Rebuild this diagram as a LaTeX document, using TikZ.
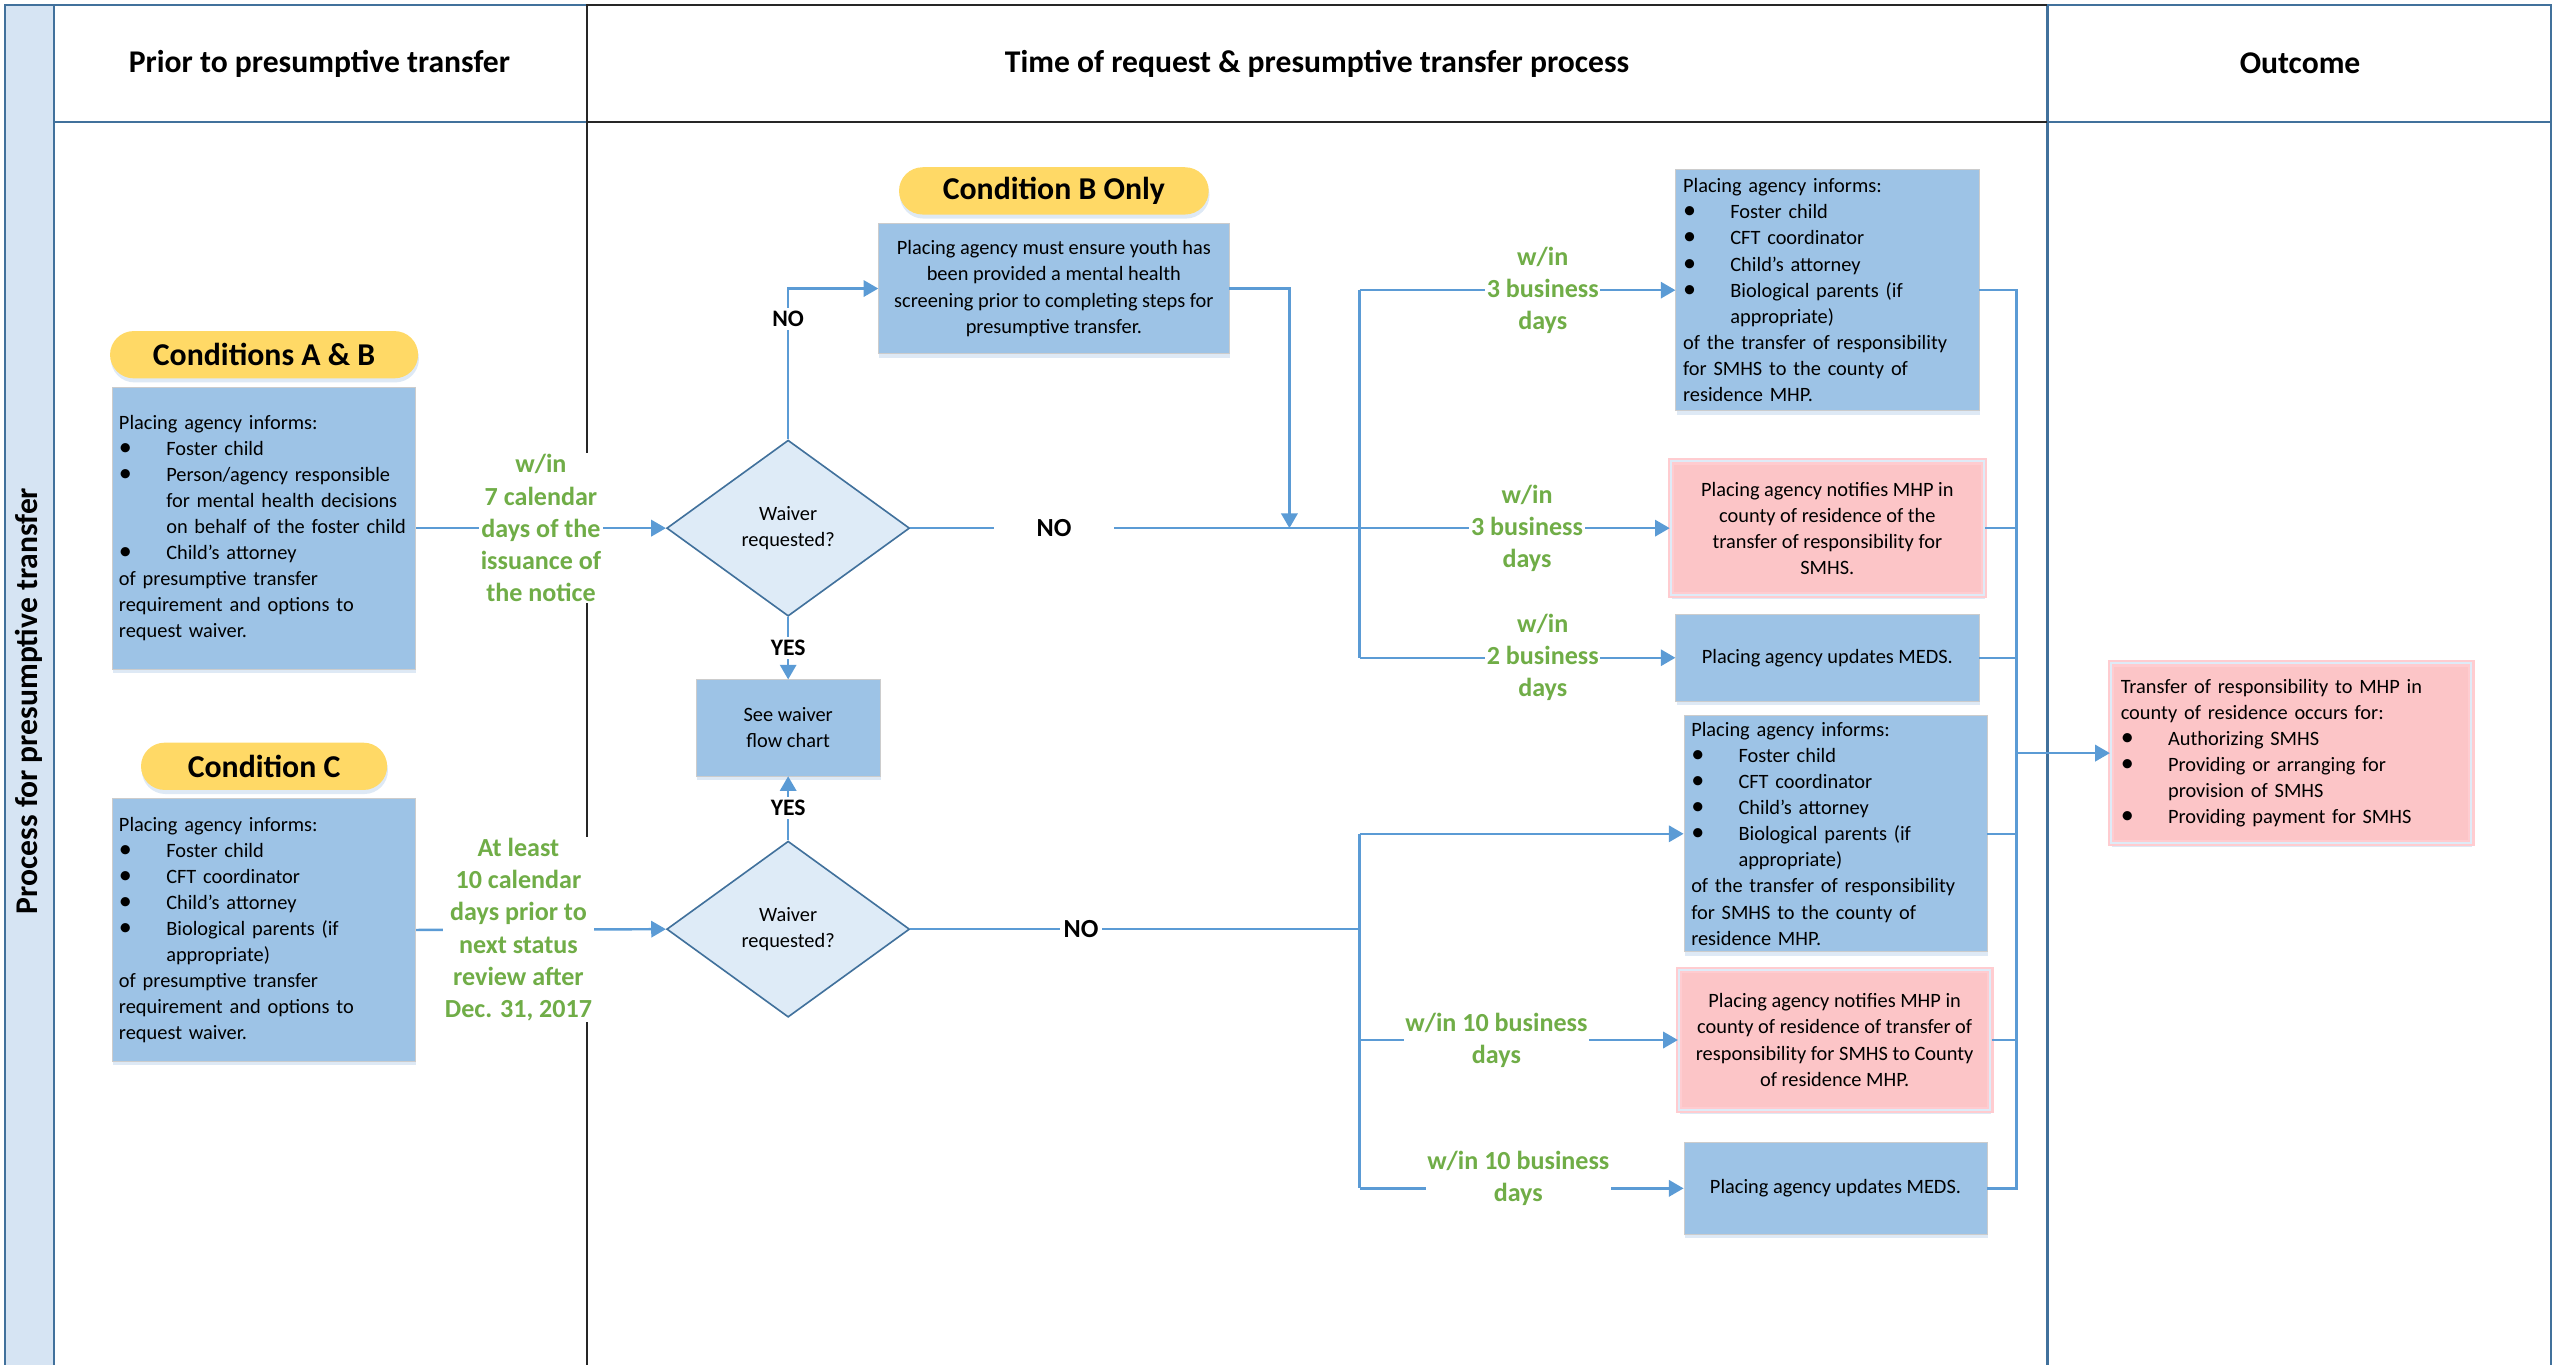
\documentclass[tikz,border=0pt]{standalone}
\usepackage{fontspec}
\setmainfont{Carlito}
\usetikzlibrary{positioning, arrows.meta, shapes.geometric, shadows}

\definecolor{boxblue}{RGB}{157,195,230}
\definecolor{diafill}{RGB}{222,235,247}
\definecolor{laneblue}{RGB}{65,113,156}
\definecolor{stripblue}{RGB}{214,228,243}
\definecolor{flowblue}{RGB}{91,155,213}
\definecolor{daygreen}{RGB}{112,173,71}
\definecolor{pillyellow}{RGB}{255,217,102}
\definecolor{notepink}{RGB}{252,197,199}
\definecolor{edgepink}{RGB}{255,204,208}

\newcommand{\bodyfont}{\fontsize{12.5}{16}\selectfont}
\newcommand{\bul}{\makebox[29pt][l]{\fontsize{16}{16}\selectfont\textbullet}}
\newcommand{\ind}{\hspace*{29pt}}

\tikzset{
  lane/.style={draw=laneblue, line width=1.4pt},
  midlane/.style={draw=black!85, line width=1.4pt},
  lanehead/.style={font=\fontsize{19.4}{22}\selectfont\bfseries},
  softshadow/.style={drop shadow={shadow xshift=0.5pt, shadow yshift=-2.5pt, fill=stripblue, opacity=0.8}},
  pill/.style={fill=pillyellow, rounded corners=14.5pt, minimum height=29pt, inner sep=0pt,
    font=\fontsize{19.5}{22}\selectfont\bfseries, softshadow},
  infobox/.style={fill=boxblue, draw=black!20, inner sep=4pt, align=left, font=\bodyfont, softshadow},
  process/.style={fill=boxblue, draw=black!20, inner sep=3pt, align=center, font=\bodyfont, softshadow},
  notebox/.style={fill=notepink, draw=edgepink, line width=1.4pt, double=diafill, double distance=1.2pt,
    inner sep=4pt, font=\bodyfont, softshadow},
  decision/.style={diamond, draw=laneblue, fill=diafill, line width=1pt, minimum width=149pt,
    minimum height=108pt, inner sep=0pt, align=center, font=\bodyfont},
  flow/.style={draw=flowblue, line width=1.5pt, -{Triangle[length=9pt, width=10pt]}},
  link/.style={draw=flowblue, line width=1.5pt},
  daylabel/.style={font=\fontsize{16}{19.7}\selectfont\bfseries, text=daygreen, fill=white,
    inner sep=1pt, align=center},
  answer/.style={font=\fontsize{14.5}{17}\selectfont\bfseries, fill=white, inner sep=2pt},
}

\begin{document}
\begin{tikzpicture}[x=1pt, y=-1pt]
  \useasboundingbox (0,0) rectangle (1568,837);

  % swimlanes
  \fill[stripblue] (3,3) rectangle (33,840);
  \draw[lane] (3,840) -- (3,3) -- (1565,3) -- (1565,840)
              (33,3) -- (33,840) (33,75) -- (360,75)
              (1256,3) -- (1256,840) (1256,75) -- (1565,75);
  \draw[midlane] (360,840) -- (360,3) -- (1256,3) (360,75) -- (1256,75);

  \node[lanehead] (hdrPrior) at (196,39) {Prior to presumptive transfer};
  \node[lanehead] (hdrTime) at (808,39) {Time of request \& presumptive transfer process};
  \node[lanehead] (hdrOutcome) at (1411,39) {Outcome};
  \node[lanehead, rotate=90] (laneName) at (18,430) {Process for presumptive transfer};

  % prior to transfer
  \node[infobox, minimum width=186pt, minimum height=173pt, text width=178pt] (infoAB) at (162,324)
    {Placing agency informs:\\
     \bul Foster child\\
     \bul Person/agency responsible\\
     \ind for mental health decisions\\
     \ind on behalf of the foster child\\
     \bul Child’s attorney\\
     of presumptive transfer\\
     requirement and options to\\
     request waiver.};
  \node[pill, minimum width=189pt, above=5pt of infoAB] (condAB) {Conditions A \& B};

  \node[infobox, minimum width=186pt, minimum height=161pt, text width=178pt] (infoC) at (162,570.5)
    {Placing agency informs:\\
     \bul Foster child\\
     \bul CFT coordinator\\
     \bul Child’s attorney\\
     \bul Biological parents (if\\
     \ind appropriate)\\
     of presumptive transfer\\
     requirement and options to\\
     request waiver.};
  \node[pill, minimum width=151pt, above=5pt of infoC] (condC) {Condition C};

  % waiver decisions
  \node[decision] (waiverA) at (483.5,324) {Waiver\\requested?};
  \node[decision] (waiverC) at (483.5,570) {Waiver\\requested?};
  \node[process, minimum width=113pt, minimum height=59pt] (seeWaiver) at (483.5,446.5) {See waiver\\flow chart};

  \node[process, minimum width=215pt, minimum height=80pt] (screenB) at (646.5,177)
    {Placing agency must ensure youth has\\
     been provided a mental health\\
     screening prior to completing steps for\\
     presumptive transfer.};
  \node[pill, minimum width=190pt, above=5pt of screenB] (condBOnly) {Condition B Only};

  % notices, conditions A & B
  \node[infobox, minimum width=186pt, minimum height=148pt, text width=177pt] (notifyAB1) at (1121,178)
    {Placing agency informs:\\
     \bul Foster child\\
     \bul CFT coordinator\\
     \bul Child’s attorney\\
     \bul Biological parents (if\\
     \ind appropriate)\\
     of the transfer of responsibility\\
     for SMHS to the county of\\
     residence MHP.};
  \node[notebox, minimum width=192pt, minimum height=82pt, align=center] (notifyAB2) at (1121,324)
    {Placing agency notifies MHP in\\
     county of residence of the\\
     transfer of responsibility for\\
     SMHS.};
  \node[process, minimum width=186pt, minimum height=53pt] (medsAB) at (1121,403.5) {Placing agency updates MEDS.};

  % notices, condition C
  \node[infobox, minimum width=186pt, minimum height=141pt, text width=177pt] (notifyC1) at (1126,511.5)
    {Placing agency informs:\\
     \bul Foster child\\
     \bul CFT coordinator\\
     \bul Child’s attorney\\
     \bul Biological parents (if\\
     \ind appropriate)\\
     of the transfer of responsibility\\
     for SMHS to the county of\\
     residence MHP.};
  \node[notebox, minimum width=191pt, minimum height=86pt, align=center] (notifyC2) at (1125.5,638)
    {Placing agency notifies MHP in\\
     county of residence of transfer of\\
     responsibility for SMHS to County\\
     of residence MHP.};
  \node[process, minimum width=186pt, minimum height=56pt] (medsC) at (1126,729) {Placing agency updates MEDS.};

  % outcome
  \node[notebox, minimum width=221pt, minimum height=110pt, text width=209pt, align=left] (outcome) at (1405.5,462)
    {Transfer of responsibility to MHP in\\
     county of residence occurs for:\\
     \bul Authorizing SMHS\\
     \bul Providing or arranging for\\
     \ind provision of SMHS\\
     \bul Providing payment for SMHS};

  \coordinate (mergeB) at (791,324);
  \coordinate (splitA) at (834,324);
  \coordinate (splitC) at (834,570);
  \coordinate (rbus) at (1237,462);

  % connectors
  \draw[flow] (infoAB.east) -- node[daylabel, pos=0.5]
    {w/in\\7 calendar\\days of the\\issuance of\\the notice} (waiverA.west);
  \draw[flow] (infoC.east) -- node[daylabel, pos=0.41]
    {At least\\10 calendar\\days prior to\\next status\\review after\\Dec. 31, 2017} (waiverC.west);

  \draw[flow] (waiverA.north) |- node[answer, pos=0.4] {NO} (screenB.west);
  \draw[flow] (waiverA.south) -- node[answer] {YES} (seeWaiver.north);
  \draw[flow] (waiverC.north) -- node[answer] {YES} (seeWaiver.south);
  \draw[flow] (screenB.east) -| (mergeB);

  \draw[link] (waiverA.east) -- node[answer, pos=0.32, font=\fontsize{16}{18}\selectfont\bfseries, inner xsep=26pt] {NO} (splitA);
  \draw[link] (splitA |- notifyAB1.west) -- (splitA |- medsAB.west);
  \draw[flow] (splitA |- notifyAB1.west) -- node[daylabel, pos=0.58] {w/in\\3 business\\days} (notifyAB1.west);
  \draw[flow] (splitA) -- node[daylabel, pos=0.54] {w/in\\3 business\\days} (notifyAB2.west);
  \draw[flow] (splitA |- medsAB.west) -- node[daylabel, pos=0.58] {w/in\\2 business\\days} (medsAB.west);

  \draw[link] (waiverC.east) -- node[answer, pos=0.38, font=\fontsize{16}{18}\selectfont\bfseries] {NO} (splitC);
  \draw[link] (splitC |- notifyC1.west) -- (splitC |- medsC.west);
  \draw[flow] (splitC |- notifyC1.west) -- (notifyC1.west);
  \draw[flow] (splitC |- notifyC2.west) -- node[daylabel, pos=0.43] {w/in 10 business\\days} (notifyC2.west);
  \draw[flow] (splitC |- medsC.west) -- node[daylabel, pos=0.49, yshift=6pt] {w/in 10 business\\days} (medsC.west);

  \draw[link] (notifyAB1.east) -- (notifyAB1.east -| rbus) -- (medsC.east -| rbus) -- (medsC.east)
              (notifyAB2.east) -- (notifyAB2.east -| rbus)
              (medsAB.east) -- (medsAB.east -| rbus)
              (notifyC1.east) -- (notifyC1.east -| rbus)
              (notifyC2.east) -- (notifyC2.east -| rbus);
  \draw[flow] (rbus) -- (outcome.west);
\end{tikzpicture}
\end{document}
